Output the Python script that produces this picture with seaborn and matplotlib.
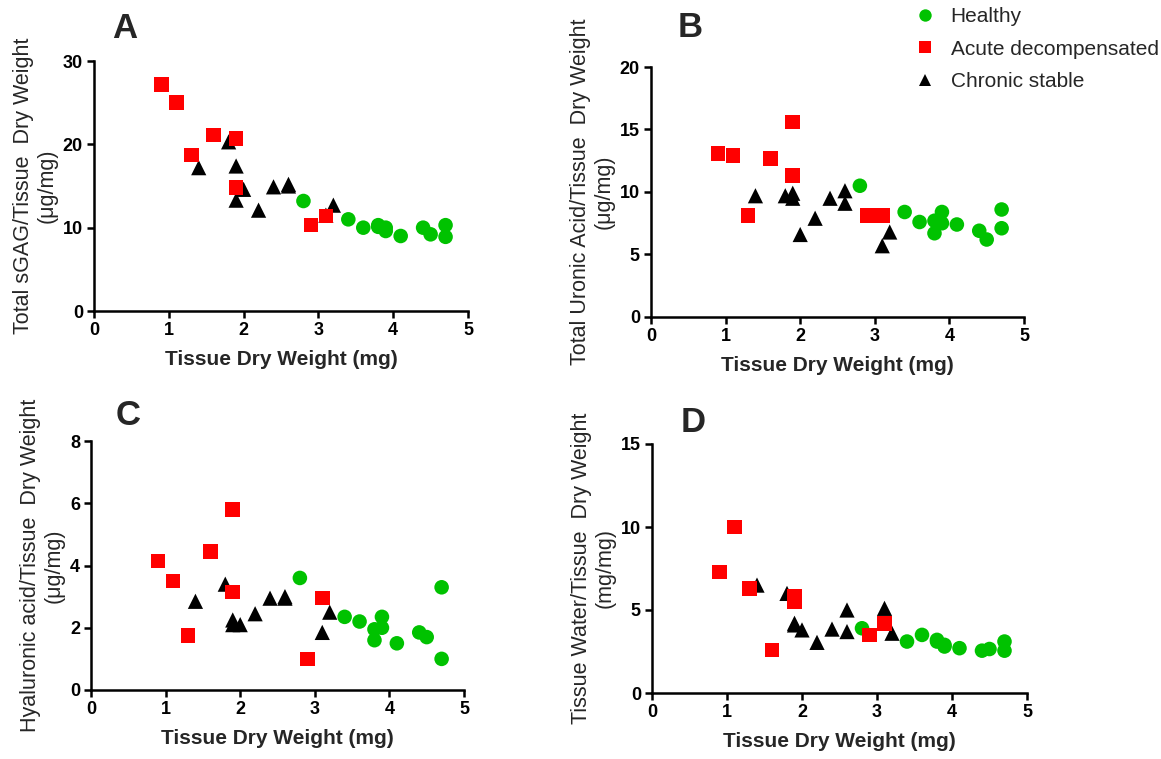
import numpy as np
import pandas as pd
import matplotlib
matplotlib.use("Agg")
import matplotlib.pyplot as plt
import seaborn as sns

# Tissue dry weight (mg) of each sample, per group
healthy_x = [2.8, 3.4, 3.6, 3.8, 3.8, 3.9, 3.9, 4.1, 4.4, 4.5, 4.7, 4.7]
acute_x = [0.9, 1.1, 1.3, 1.6, 1.9, 1.9, 2.9, 3.1]
chronic_x = [1.4, 1.8, 1.9, 1.9, 2.0, 2.2, 2.4, 2.6, 2.6, 3.1, 3.2]

# A: total sGAG / tissue dry weight (ug/mg)
sgag_healthy = [13.2, 11.0, 10.0, 10.3, 10.1, 10.0, 9.6, 9.0, 10.0, 9.2, 10.3, 8.9]
sgag_acute = [27.2, 25.0, 18.7, 21.1, 20.7, 14.8, 10.3, 11.4]
sgag_chronic = [17.2, 20.3, 17.4, 13.3, 14.6, 12.1, 14.9, 15.0, 15.2, 11.5, 12.7]

# B: total uronic acid / tissue dry weight (ug/mg)
ua_healthy = [10.5, 8.4, 7.6, 7.7, 6.7, 8.4, 7.5, 7.4, 6.9, 6.2, 8.6, 7.1]
ua_acute = [13.1, 12.9, 8.1, 12.7, 15.6, 11.3, 8.1, 8.1]
ua_chronic = [9.7, 9.7, 9.9, 9.5, 6.6, 7.9, 9.5, 10.1, 9.1, 5.7, 6.8]

# C: hyaluronic acid / tissue dry weight (ug/mg)
ha_healthy = [3.6, 2.35, 2.2, 1.95, 1.6, 2.35, 2.0, 1.5, 1.85, 1.7, 3.3, 1.0]
ha_acute = [4.15, 3.5, 1.75, 4.45, 5.8, 3.15, 1.0, 2.95]
ha_chronic = [2.85, 3.4, 2.25, 2.1, 2.1, 2.45, 2.95, 3.0, 2.95, 1.85, 2.5]

# D: tissue water / tissue dry weight (mg/mg)
water_healthy = [3.9, 3.1, 3.5, 3.2, 3.1, 2.9, 2.8, 2.7, 2.55, 2.65, 3.1, 2.55]
water_acute = [7.3, 10.0, 6.3, 2.6, 5.8, 5.5, 3.5, 4.2]
water_chronic = [6.5, 6.0, 4.2, 4.1, 3.8, 3.05, 3.85, 5.0, 3.7, 5.1, 3.6]

groups = ["Healthy", "Acute decompensated", "Chronic stable"]
palette = {"Healthy": "#00c200", "Acute decompensated": "#ff0000", "Chronic stable": "#000000"}
markers = {"Healthy": "o", "Acute decompensated": "s", "Chronic stable": "^"}
# chronic drawn first so the acute squares sit on top
draw_order = ["Healthy", "Chronic stable", "Acute decompensated"]

panels = [
    ("A", sgag_healthy, sgag_acute, sgag_chronic, "Total sGAG/Tissue  Dry Weight\n(\u03bcg/mg)", 30, [0, 10, 20, 30]),
    ("B", ua_healthy, ua_acute, ua_chronic, "Total Uronic Acid/Tissue  Dry Weight\n(\u03bcg/mg)", 20, [0, 5, 10, 15, 20]),
    ("C", ha_healthy, ha_acute, ha_chronic, "Hyaluronic acid/Tissue  Dry Weight\n(\u03bcg/mg)", 8, [0, 2, 4, 6, 8]),
    ("D", water_healthy, water_acute, water_chronic, "Tissue Water/Tissue  Dry Weight\n(mg/mg)", 15, [0, 5, 10, 15]),
]

sns.set_theme(style="ticks")
plt.rcParams["font.family"] = ["Liberation Sans", "DejaVu Sans"]

W, H = 1161, 759
fig = plt.figure(figsize=(W / 100, H / 100), dpi=100)

# axes boxes in pixels: left, right, top, bottom
boxes = [(94, 468, 61, 311), (651, 1024, 67, 317), (91, 464, 441, 690), (652, 1027, 444, 693)]
letter_pos = [(125, 38), (690, 37), (128, 425), (693, 432)]

for (letter, yh, ya, yc, ylabel, ymax, yticks), (l, r, t, b), (lx, ly) in zip(panels, boxes, letter_pos):
    ax = fig.add_axes([l / W, 1 - b / H, (r - l) / W, (b - t) / H])
    df = pd.DataFrame({
        "x": healthy_x + acute_x + chronic_x,
        "y": yh + ya + yc,
        "group": ["Healthy"] * len(healthy_x) + ["Acute decompensated"] * len(acute_x)
                 + ["Chronic stable"] * len(chronic_x),
    })
    for g in draw_order:
        sub = df[df["group"] == g]
        sns.scatterplot(data=sub, x="x", y="y", hue="group", style="group",
                        palette=palette, markers=markers, hue_order=[g], style_order=[g],
                        s=110 if g != "Chronic stable" else 120, linewidth=0, ax=ax,
                        legend=(letter == "B"), zorder=3)
    ax.set_xlim(0, 5)
    ax.set_ylim(0, ymax)
    ax.set_xticks([0, 1, 2, 3, 4, 5])
    ax.set_yticks(yticks)
    ax.set_xlabel("Tissue Dry Weight (mg)", fontsize=15, fontweight="bold", labelpad=8)
    ax.set_ylabel(ylabel, fontsize=15.5, labelpad=4, linespacing=1.15)
    for sp in ["top", "right"]:
        ax.spines[sp].set_visible(False)
    for sp in ["left", "bottom"]:
        ax.spines[sp].set_linewidth(1.8)
        ax.spines[sp].set_color("black")
    ax.tick_params(direction="out", length=5, width=1.8, colors="black", labelsize=13, pad=3)
    for lab in ax.get_xticklabels() + ax.get_yticklabels():
        lab.set_fontweight("bold")
    fig.text(lx / W, 1 - ly / H, letter, fontsize=25, fontweight="bold", ha="center", va="baseline")

    if letter == "B":
        handles, labels = ax.get_legend_handles_labels()
        ax.get_legend().remove()
        hmap = dict(zip(labels, handles))
        fig.legend([hmap[g] for g in groups], groups, loc="upper left",
                   bbox_to_anchor=(912 / W, 1 - 3 / H), frameon=False, fontsize=15,
                   markerscale=0.85, handlelength=0.8, handletextpad=0.85,
                   labelspacing=0.65, borderaxespad=0, borderpad=0.2)

fig.savefig("out.png", dpi=100, facecolor="white")
